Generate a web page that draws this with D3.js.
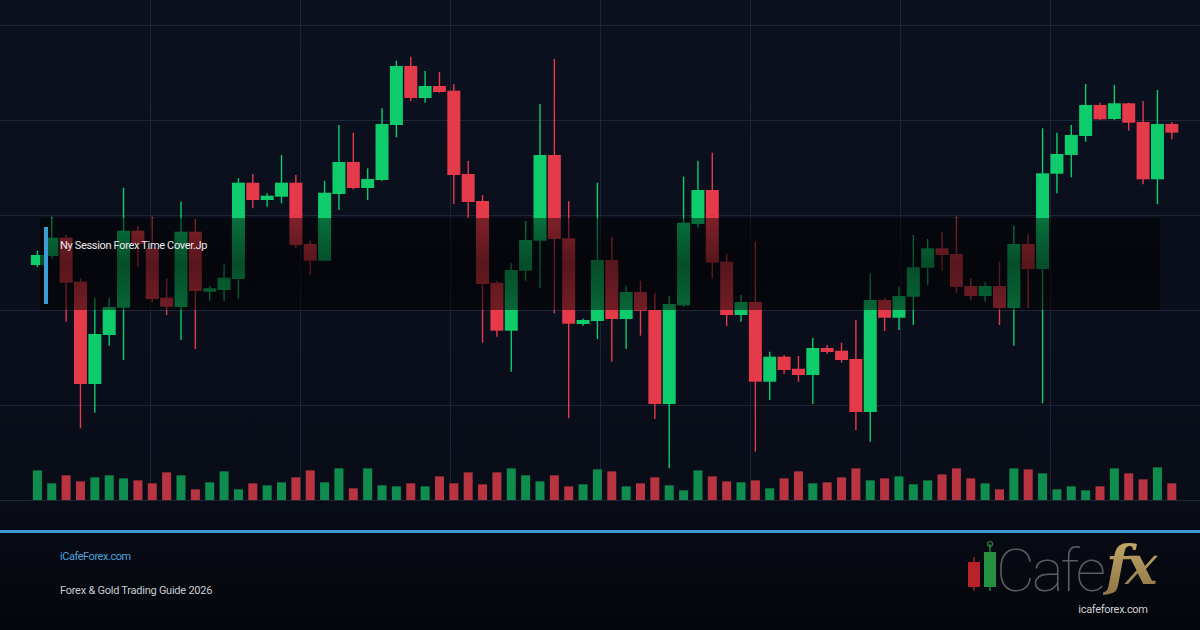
<!DOCTYPE html>
<html>
<head>
<meta charset="utf-8">
<script src="https://cdn.jsdelivr.net/npm/d3@7"></script>
<style>
  html, body { margin: 0; padding: 0; background: #080c16; }
  #plot { width: 1200px; height: 630px; }
</style>
</head>
<body>
<div id="plot"></div>
<script>
// OHLC per candle (price units)
var opens  = [123.5,124.4,126.23,121.83,111.6,116.5,119.23,126.93,125.17,120.23,119.3,126.83,120.83,121.0,122.1,131.73,130.0,130.33,131.73,125.6,
              123.93,130.6,133.8,131.2,132.0,137.5,143.4,140.2,141.4,140.93,132.6,129.9,121.73,116.93,122.93,125.93,134.5,126.17,117.6,117.9,
              124.0,118.1,120.8,119.0,109.6,119.47,127.6,131.0,123.83,118.5,119.8,111.83,114.33,113.13,112.5,115.2,114.93,114.1,108.8,120.0,
              118.23,120.33,123.23,125.17,124.6,121.4,120.4,121.4,119.2,125.6,123.1,132.63,134.5,136.4,139.5,138.1,139.67,137.8,132.07,137.6];
var highs  = [124.93,128.33,126.5,122.17,120.23,120.23,131.23,127.4,128.33,122.17,129.83,128.1,121.4,123.6,132.17,132.6,130.67,134.5,132.5,125.93,
              131.9,137.5,136.73,133.17,139.17,143.93,144.33,142.9,142.8,141.6,133.9,130.5,121.93,123.67,127.9,139.6,144.1,129.87,118.13,131.73,
              126.33,121.43,121.93,120.73,120.43,132.33,133.93,134.73,124.6,120.5,125.83,114.83,114.5,114.4,116.2,115.5,115.73,118.0,122.67,120.23,
              121.33,126.5,126.1,126.77,128.33,122.17,121.77,123.83,127.43,126.57,137.17,136.73,137.5,141.6,139.73,141.5,139.73,139.9,141.0,137.8];
var lows   = [123.27,124.17,117.83,107.17,108.73,115.43,114.0,123.27,119.77,118.5,116.0,115.1,119.93,119.93,120.17,129.17,129.33,129.67,125.23,122.5,
              123.9,129.0,131.07,130.0,131.9,136.27,139.9,139.73,140.73,129.6,128.23,115.73,116.33,112.83,121.93,121.17,118.67,108.17,117.43,116.1,
              113.83,115.1,116.43,108.1,103.17,119.33,127.27,122.17,117.4,117.83,104.83,110.0,112.6,111.83,109.6,114.6,113.73,107.0,105.83,116.9,
              117.0,117.5,121.5,122.93,120.73,120.0,119.83,117.5,115.43,119.17,109.67,130.67,132.27,135.83,138.0,138.0,136.93,131.57,129.57,136.07];
var closes = [124.5,126.23,121.73,111.6,116.6,119.3,126.93,125.6,120.1,119.33,126.83,120.9,121.17,122.23,131.73,130.0,130.43,131.73,125.5,123.93,
              130.73,133.8,131.2,132.1,137.6,143.4,140.2,141.4,140.8,132.5,129.8,121.6,116.93,123.0,126.0,134.5,126.1,117.63,118.0,124.0,
              118.1,120.8,118.93,109.6,119.6,127.73,131.0,123.73,118.5,119.8,111.83,114.33,113.0,112.5,115.2,114.8,114.0,108.8,120.0,118.23,
              120.4,123.27,125.17,124.5,121.33,120.4,121.4,119.2,125.6,123.1,132.67,134.6,136.5,139.5,138.07,139.67,137.73,132.07,137.6,136.73];
var volumes = [890,500,740,560,680,740,650,590,500,830,740,320,530,860,320,500,440,530,680,890,
               530,950,350,950,440,410,500,410,710,500,830,470,830,950,740,560,740,410,470,920,
               860,410,500,680,440,290,890,710,560,530,590,350,650,860,500,530,680,950,590,650,
               710,470,590,770,950,650,500,320,950,920,800,320,410,290,410,950,800,620,980,500];
var gridPrices = [100, 109.5, 119, 128.5, 138, 147.5];
var gridTimes = [1, 2, 3, 4, 5, 6, 7];
var sessionLabel = "Ny Session Forex Time Cover.Jp";
var siteLabel = "iCafeForex.com";
var guideLabel = "Forex & Gold Trading Guide 2026";

var dataset = opens.map(function (o, i) {
    return { i: i, open: o, high: highs[i], low: lows[i], close: closes[i], vol: volumes[i] };
});

var w = 1200, h = 630;
var up = "#0ecb6c", down = "#e53a4a";
var upVol = "#0f8d4e", downVol = "#b93441";

var svg = d3.select("#plot")
    .append("svg")
    .attr("width", w)
    .attr("height", h)
    .style("display", "block");

var defs = svg.append("defs");
var bg = defs.append("linearGradient").attr("id", "bg").attr("x1", 0).attr("y1", 0).attr("x2", 0).attr("y2", 1);
bg.append("stop").attr("offset", "0%").attr("stop-color", "#0c1120");
bg.append("stop").attr("offset", "78%").attr("stop-color", "#090d18");
bg.append("stop").attr("offset", "100%").attr("stop-color", "#04060b");

var band = defs.append("linearGradient").attr("id", "band").attr("x1", 0).attr("y1", 0).attr("x2", 0).attr("y2", 1);
band.append("stop").attr("offset", "0%").attr("stop-color", "#000").attr("stop-opacity", 0.45);
band.append("stop").attr("offset", "50%").attr("stop-color", "#000").attr("stop-opacity", 0.62);
band.append("stop").attr("offset", "100%").attr("stop-color", "#000").attr("stop-opacity", 0.5);

var gold = defs.append("linearGradient").attr("id", "gold").attr("x1", 0).attr("y1", 0).attr("x2", 0).attr("y2", 1);
gold.append("stop").attr("offset", "0%").attr("stop-color", "#c9ad6e");
gold.append("stop").attr("offset", "100%").attr("stop-color", "#8c7443");

svg.append("rect").attr("width", w).attr("height", h).attr("fill", "url(#bg)");

var xScale = d3.scaleLinear()
    .domain([0, dataset.length - 1])
    .range([37.4, 1171.8]);

var yScale = d3.scaleLinear()
    .domain([100, 147.5])
    .range([500, 25]);

var gridX = d3.scaleLinear()
    .domain([0, 8])
    .range([0, w]);

var vScale = d3.scaleLinear()
    .domain([0, 1000])
    .range([0, 33.3]);

// grid
svg.append("g").selectAll("line")
    .data(gridPrices)
    .enter()
    .append("line")
    .attr("x1", 0).attr("x2", w)
    .attr("y1", function (d) { return Math.round(yScale(d)) + 0.5; })
    .attr("y2", function (d) { return Math.round(yScale(d)) + 0.5; })
    .attr("stroke", "#1e2537").attr("stroke-width", 1);

svg.append("g").selectAll("line")
    .data(gridTimes)
    .enter()
    .append("line")
    .attr("x1", function (d) { return gridX(d) + 0.5; })
    .attr("x2", function (d) { return gridX(d) + 0.5; })
    .attr("y1", 0).attr("y2", 500)
    .attr("stroke", "#1e2537").attr("stroke-width", 1);

// volume
svg.append("g").selectAll("rect")
    .data(dataset)
    .enter()
    .append("rect")
    .attr("x", function (d) { return xScale(d.i) - 4.5; })
    .attr("width", 9)
    .attr("y", function (d) { return 500 - vScale(d.vol); })
    .attr("height", function (d) { return vScale(d.vol); })
    .attr("fill", function (d) { return d.close >= d.open ? upVol : downVol; });

// candles
var candle = svg.append("g").selectAll("g")
    .data(dataset)
    .enter()
    .append("g");

candle.append("line")
    .attr("x1", function (d) { return xScale(d.i); })
    .attr("x2", function (d) { return xScale(d.i); })
    .attr("y1", function (d) { return yScale(d.high); })
    .attr("y2", function (d) { return yScale(d.low); })
    .attr("stroke", function (d) { return d.close >= d.open ? up : down; })
    .attr("stroke-width", 1.4);

candle.append("rect")
    .attr("x", function (d) { return xScale(d.i) - 6.5; })
    .attr("width", 13)
    .attr("y", function (d) { return yScale(Math.max(d.open, d.close)); })
    .attr("height", function (d) { return Math.max(1.5, Math.abs(yScale(d.open) - yScale(d.close))); })
    .attr("fill", function (d) { return d.close >= d.open ? up : down; });

// session band
svg.append("rect")
    .attr("x", 40).attr("y", 218)
    .attr("width", 1120).attr("height", 92)
    .attr("fill", "url(#band)");

svg.append("rect")
    .attr("x", 44).attr("y", 227)
    .attr("width", 4).attr("height", 77)
    .attr("fill", "#3a9fd8");

svg.append("text")
    .attr("x", 60).attr("y", 249)
    .attr("font-family", "Roboto, 'Noto Sans', sans-serif")
    .attr("font-size", 11)
    .attr("letter-spacing", -0.33)
    .attr("fill", "#ececec")
    .text(sessionLabel);

// footer
svg.append("rect")
    .attr("x", 0).attr("y", 530)
    .attr("width", w).attr("height", 3)
    .attr("fill", "#3d9bd3");

svg.append("text")
    .attr("x", 60).attr("y", 560)
    .attr("font-family", "Roboto, 'Noto Sans', sans-serif")
    .attr("font-size", 11)
    .attr("letter-spacing", -0.45)
    .attr("fill", "#4aa3de")
    .text(siteLabel);

svg.append("text")
    .attr("x", 60).attr("y", 594)
    .attr("font-family", "Roboto, 'Noto Sans', sans-serif")
    .attr("font-size", 11)
    .attr("letter-spacing", -0.25)
    .attr("fill", "#c9ccd2")
    .text(guideLabel);

// logo
var logo = svg.append("g");
logo.append("line").attr("x1", 974).attr("x2", 974).attr("y1", 557).attr("y2", 591).attr("stroke", "#9a1f24").attr("stroke-width", 1.5);
logo.append("rect").attr("x", 968).attr("y", 562).attr("width", 12).attr("height", 25).attr("fill", "#b8232a");
logo.append("line").attr("x1", 990).attr("x2", 990).attr("y1", 544).attr("y2", 591).attr("stroke", "#1f7f3a").attr("stroke-width", 1.5);
logo.append("circle").attr("cx", 990).attr("cy", 544).attr("r", 2.5).attr("fill", "none").attr("stroke", "#1f7f3a").attr("stroke-width", 1.2);
logo.append("rect").attr("x", 984).attr("y", 552).attr("width", 12).attr("height", 35).attr("fill", "#23913f");
logo.append("text")
    .attr("x", 996).attr("y", 591)
    .attr("font-family", "Roboto, sans-serif")
    .attr("font-weight", 100)
    .attr("font-size", 60)
    .attr("letter-spacing", -3)
    .attr("fill", "#5b5d62")
    .text("Cafe");
logo.append("text")
    .attr("x", 1106).attr("y", 584)
    .attr("font-family", "'DejaVu Serif', 'Liberation Serif', serif")
    .attr("font-style", "italic")
    .attr("font-weight", "bold")
    .attr("font-size", 54)
    .attr("letter-spacing", -4)
    .attr("fill", "url(#gold)")
    .text("fx");
logo.append("text")
    .attr("x", 1113).attr("y", 613)
    .attr("text-anchor", "middle")
    .attr("font-family", "Roboto, 'Noto Sans', sans-serif")
    .attr("font-size", 11)
    .attr("letter-spacing", -0.3)
    .attr("fill", "#d0d0d0")
    .text("icafeforex.com");
</script>
</body>
</html>
